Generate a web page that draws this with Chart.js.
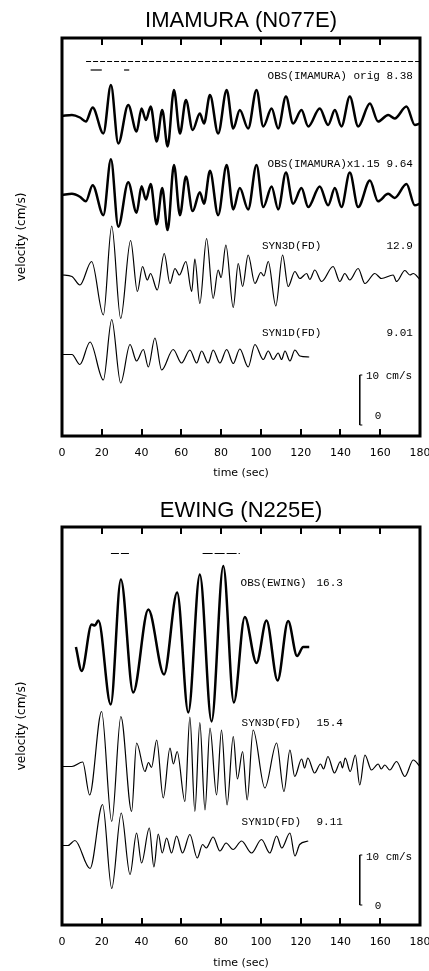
<!DOCTYPE html>
<html>
<head>
<meta charset="utf-8">
<script src="https://cdn.jsdelivr.net/npm/chart.js@4.4.1/dist/chart.umd.min.js"></script>
<style>
  html, body { margin: 0; padding: 0; background: #fff; }
  canvas { display: block; }
</style>
</head>
<body>
<canvas id="imamura" width="429" height="489"></canvas>
<canvas id="ewing" width="429" height="482"></canvas>
<script>
// time axis (sec)
const timeMin = 0;
const timeMax = 180;
const timeStep = 20;
const velMax = 79.6; // vertical room of each panel, cm/s

// ---- IMAMURA (N077E) ----
// observed, original
const imaObsTime = [0, 5, 9, 12, 15.4, 20.8, 24.6, 28.3, 33.3, 37.5, 40, 42.2, 44.6, 47.6, 50.4, 53.1, 56.3, 59.3, 62.3, 65.7, 69.3, 71.4, 74.4, 78.5, 82.8, 86.1, 89.4, 93.6, 97.8, 101.2, 105.4, 108.7, 112.6, 116.2, 120.4, 123.8, 129.6, 133.8, 137.2, 140.5, 144.7, 148.9, 154.8, 158.9, 164, 167.3, 173.2, 177.4, 180];
const imaObsVel = [0, 0.2, -0.3, -1.1, 1.7, -3.5, 6.2, -5.5, 2.2, -3.1, 1.5, -0.8, 1.9, -5.1, 1.2, -6.1, 5.2, -3.5, 3.2, -2.8, 0.5, -1.5, 4.2, -3.5, 5.2, -2.5, 1.2, -2.5, 5.2, -2.1, 1.5, -2.5, 3.9, -1.5, 1.2, -2.1, 1.5, -1.8, 1.2, -2.1, 3.9, -2.1, 2.5, -1.1, 0.2, -0.5, 1.9, -1.8, -1.5];
const imaObsScale = 1.15; // second trace is the observed one x1.15
// synthetic 3D (FD)
const ima3dTime = [0, 5, 9, 14.9, 20.8, 25, 29.5, 34.5, 37.9, 40.5, 42.9, 44.5, 47.9, 51.4, 54.3, 56.8, 59, 62.3, 65.2, 66.8, 69.3, 72.7, 76, 78.5, 80, 82.4, 86.1, 88.6, 90.8, 93.6, 97, 100, 101.5, 103.7, 107.5, 110.9, 113.7, 117.1, 119.6, 123, 124.6, 127.1, 130.5, 136.3, 139.7, 142.2, 144.7, 148.9, 152.3, 157.3, 160.6, 166.5, 168.2, 172.4, 174.9, 176.6, 180];
const ima3dVel = [0, -0.3, -2, 2.7, -8, 9.8, -8.7, 6.9, -3.3, 1.7, -1, 0.3, -3, 4.3, -1.7, 1.3, 0, 2.7, -3.3, 3.2, -5.7, 7.3, -4.7, 1, -0.5, 6, -6.5, 2.3, -2.3, 4, -1.7, 0.5, -0.2, 2.7, -6.2, 4, -2.3, 0.7, -0.7, 0.3, -0.9, 1, -1.3, 1.7, -1.3, 0.3, -1, 1.3, -1.7, 0.3, -0.7, 0, -1.3, 0.9, 0, 0.3, -0.9];
// synthetic 1D (FD)
const ima1dTime = [0, 5, 9, 14.1, 20.8, 25, 29.5, 34.2, 37.5, 40.9, 43.4, 46.7, 50.1, 55.9, 60.1, 64.3, 67.7, 70.2, 73.5, 76, 79.4, 82.8, 86.1, 89.4, 93.6, 97, 101.2, 103.7, 106.2, 108.7, 110.4, 112.1, 114.6, 117.1, 119.6, 124.3];
const ima1dVel = [0, 0, -2, 2.5, -5.1, 7, -5.7, 2, -1.3, 1, -2.5, 3.3, -3.1, 1, -1.7, 0.9, -1.7, 0.7, -1.7, 0.9, -1.7, 1, -1.8, 1.1, -2.5, 2, -1, 0.7, -1, 0.3, -1, 0.7, -1.3, 0.9, -0.3, -0.5];
const imaBase = [64, 48.2, 32.2, 16.3];

// ---- EWING (N225E) ----
const ewObsTime = [7, 9.9, 14.9, 16.5, 18.3, 24.5, 29.6, 35.8, 43.4, 51.3, 57.9, 63.5, 69.3, 75.2, 81.1, 86.4, 91.9, 97.8, 102.8, 108.4, 113.7, 118.2, 121.3, 124.3];
const ewObsVel = [0, -4.8, 4.5, 4.3, 5.3, -11.5, 13.5, -9.1, 7.5, -5.5, 10.9, -13.1, 14.5, -14.9, 16.2, -11.1, 6, -3.2, 5.3, -6.7, 5.2, -1.8, 0, 0];
const ew3dTime = [0, 5, 10.4, 13.9, 19.9, 25, 29.6, 35, 37.5, 41.7, 43.5, 45, 47.6, 50.9, 54.3, 56, 57.9, 61.8, 64.3, 66.8, 69.3, 71.9, 74.4, 77.7, 80.2, 83, 86.1, 88.2, 90.8, 93.1, 96.1, 102, 107.9, 111.6, 114.6, 117, 120.5, 122, 123.6, 127, 130, 131.5, 133.7, 137, 140, 141, 142.4, 144.9, 147.5, 149.7, 152.3, 155.6, 159, 160.5, 162.3, 164.8, 168.2, 172.4, 176.6, 180];
const ew3dVel = [0, 0, 0.9, -5.7, 11, -11, 10, -9, 4.7, -1, 0.8, -0.2, 5.3, -6.3, 3.7, 0.5, 3, -7, 9.9, -9, 8.8, -8.7, 7.7, -5.7, 7.3, -7.7, 6, -2.5, 3, -6.7, 7.3, -4.3, 4.7, -5, 3.3, -2, 1.5, -0.3, 1.7, -1.3, 0.5, -0.5, 2, -1.3, 1, -0.3, 1.7, -1, 2.3, -3.7, 2.3, -0.7, 0.5, -0.5, 0.3, -0.7, 1, -2, 1.3, 0];
const ew1dTime = [0, 3, 6.5, 14.1, 20.4, 25, 29.8, 34.2, 37.5, 40, 43.9, 46.2, 48.4, 50.4, 52.6, 55.1, 57.6, 60.6, 64.3, 68, 70.7, 72.5, 76, 79.4, 82.5, 86, 90.3, 95.3, 100.3, 104.5, 107.9, 110.5, 114.6, 117.1, 119.5, 123.8];
const ew1dVel = [0, 0, 1, -4.6, 8.2, -8.6, 6.5, -5.8, 2.5, -3.5, 3.5, -4.3, 2.3, -1.5, 1.5, -1.5, 1.9, -1.5, 2.2, -2.5, 0.2, -0.5, 1.7, -1.1, 0.5, -0.8, 0.9, -1.5, 1.2, -1.5, 1.9, -0.5, 2.5, -2.1, 0.2, 0.9];
const ewBase = [55.6, 31.7, 15.9];

// time windows marked above the traces [start, end]
const imaWindowLong = [12.1, 180];
const imaWindows = [[14.4, 20], [31.2, 33.8]];
const ewWindows = [[24.6, 33.8], [70.7, 89.4]];

// 10 cm/s scale bar
const barTime = 149.7;
const imaBar = [2.2, 12.2];
const ewBar = [4, 14];

function trace(times, vels, base, width, scale = 1) {
    return {
        data: times.map((t, i) => ({ x: t, y: base + vels[i] * scale })),
        borderColor: '#000',
        borderWidth: width,
        pointRadius: 0,
        fill: false,
        cubicInterpolationMode: 'monotone'
    };
}

function segment(t0, t1, v, width, dash) {
    return {
        data: [{ x: t0, y: v }, { x: t1, y: v }],
        borderColor: '#000',
        borderWidth: width,
        borderDash: dash || [],
        pointRadius: 0,
        fill: false,
        tension: 0
    };
}

function scaleBar(t, range) {
    return {
        data: [{ x: t + 1.3, y: range[1] }, { x: t, y: range[1] }, { x: t, y: range[0] }, { x: t + 1.3, y: range[0] }],
        borderColor: '#000',
        borderWidth: 1,
        pointRadius: 0,
        fill: false,
        tension: 0
    };
}

// thick frame and inward tick marks
const framePlugin = {
    id: 'frame',
    afterDatasetsDraw(chart) {
        const { ctx, chartArea: a, scales: { x } } = chart;
        ctx.save();
        ctx.strokeStyle = '#000';
        ctx.lineWidth = 3;
        ctx.strokeRect(a.left, a.top, a.right - a.left, a.bottom - a.top);
        ctx.lineWidth = 2;
        x.ticks.forEach(tk => {
            if (tk.value <= timeMin || tk.value >= timeMax) return;
            const px = Math.round(x.getPixelForValue(tk.value));
            ctx.beginPath();
            ctx.moveTo(px, a.top);
            ctx.lineTo(px, a.top + 7);
            ctx.moveTo(px, a.bottom);
            ctx.lineTo(px, a.bottom - 7);
            ctx.stroke();
        });
        ctx.restore();
    }
};

// trace names and peak values
const labelPlugin = {
    id: 'traceLabels',
    afterDatasetsDraw(chart, args, opts) {
        const { ctx, scales: { x, y } } = chart;
        ctx.save();
        ctx.fillStyle = '#000';
        ctx.font = '11px "Liberation Mono", monospace';
        ctx.textBaseline = 'middle';
        (opts.items || []).forEach(it => {
            ctx.textAlign = it.align;
            ctx.fillText(it.text, x.getPixelForValue(it.t), y.getPixelForValue(it.v));
        });
        ctx.restore();
    }
};

function createPanel(canvasId, title, datasets, items, pad) {
    const canvas = document.getElementById(canvasId);
    const H = canvas.height;
    return new Chart(canvas.getContext('2d'), {
        type: 'line',
        data: { datasets: datasets },
        plugins: [framePlugin, labelPlugin],
        options: {
            responsive: false,
            animation: false,
            layout: { padding: { left: 0, right: 9, top: 0, bottom: 0 } },
            plugins: {
                legend: { display: false },
                tooltip: { enabled: false },
                title: {
                    display: true,
                    text: title,
                    fullSize: false,
                    color: '#000',
                    font: { family: '"Liberation Sans", Arial', size: 22, weight: 'normal', lineHeight: 1.2 },
                    padding: { top: pad.titleTop, bottom: pad.titleBottom }
                },
                traceLabels: { items: items }
            },
            scales: {
                x: {
                    type: 'linear',
                    min: timeMin,
                    max: timeMax,
                    grid: { display: false, drawTicks: false },
                    border: { display: false },
                    ticks: {
                        stepSize: timeStep,
                        autoSkip: false,
                        maxRotation: 0,
                        padding: 11,
                        color: '#000',
                        font: { family: '"DejaVu Sans"', size: 11 }
                    },
                    title: {
                        display: true,
                        text: 'time (sec)',
                        color: '#000',
                        font: { family: '"DejaVu Sans"', size: 11 },
                        padding: { top: 0, bottom: pad.xTitle }
                    },
                    afterFit(s) {
                        s.height = H - 436;
                        s.paddingLeft = 0;
                        s.paddingRight = 0;
                    }
                },
                y: {
                    type: 'linear',
                    min: 0,
                    max: velMax,
                    grid: { display: false, drawTicks: false },
                    border: { display: false },
                    ticks: { display: false },
                    title: {
                        display: true,
                        text: 'velocity (cm/s)',
                        color: '#000',
                        font: { family: '"DejaVu Sans"', size: 12 },
                        padding: { top: 15, bottom: 0 }
                    },
                    afterFit(s) {
                        s.width = 62;
                    }
                }
            }
        }
    });
}

createPanel('imamura', 'IMAMURA (N077E)', [
    segment(imaWindowLong[0], imaWindowLong[1], 74.9, 1, [5, 2]),
    ...imaWindows.map(w => segment(w[0], w[1], 73.2, 1.2)),
    trace(imaObsTime, imaObsVel, imaBase[0], 2.5),
    trace(imaObsTime, imaObsVel, imaBase[1], 2.5, imaObsScale),
    trace(ima3dTime, ima3dVel, imaBase[2], 1.2),
    trace(ima1dTime, ima1dVel, imaBase[3], 1.2),
    scaleBar(barTime, imaBar)
], [
    { text: 'OBS(IMAMURA) orig 8.38', t: 176.4, v: 71.9, align: 'right' },
    { text: 'OBS(IMAMURA)x1.15 9.64', t: 176.4, v: 54.4, align: 'right' },
    { text: 'SYN3D(FD)', t: 100.5, v: 37.9, align: 'left' },
    { text: '12.9', t: 176.4, v: 37.9, align: 'right' },
    { text: 'SYN1D(FD)', t: 100.5, v: 20.5, align: 'left' },
    { text: '9.01', t: 176.4, v: 20.5, align: 'right' },
    { text: '10 cm/s', t: 152.8, v: 11.9, align: 'left' },
    { text: '0', t: 157.3, v: 3.9, align: 'left' }
], { titleTop: 7.3, titleBottom: 4.3, xTitle: 9.4 });

createPanel('ewing', 'EWING (N225E)', [
    ...ewWindows.map((w, i) => segment(w[0], w[1], 74.3, 1.2, i ? [10, 2] : [8, 2])),
    trace(ewObsTime, ewObsVel, ewBase[0], 2.5),
    trace(ew3dTime, ew3dVel, ewBase[1], 1.2),
    trace(ew1dTime, ew1dVel, ewBase[2], 1.2),
    scaleBar(barTime, ewBar)
], [
    { text: 'OBS(EWING)', t: 89.8, v: 68.3, align: 'left' },
    { text: '16.3', t: 141.2, v: 68.3, align: 'right' },
    { text: 'SYN3D(FD)', t: 90.3, v: 40.3, align: 'left' },
    { text: '15.4', t: 141.2, v: 40.3, align: 'right' },
    { text: 'SYN1D(FD)', t: 90.3, v: 20.5, align: 'left' },
    { text: '9.11', t: 141.2, v: 20.5, align: 'right' },
    { text: '10 cm/s', t: 152.8, v: 13.6, align: 'left' },
    { text: '0', t: 157.3, v: 3.8, align: 'left' }
], { titleTop: 8.8, titleBottom: 2.8, xTitle: 1.4 });
</script>
</body>
</html>
